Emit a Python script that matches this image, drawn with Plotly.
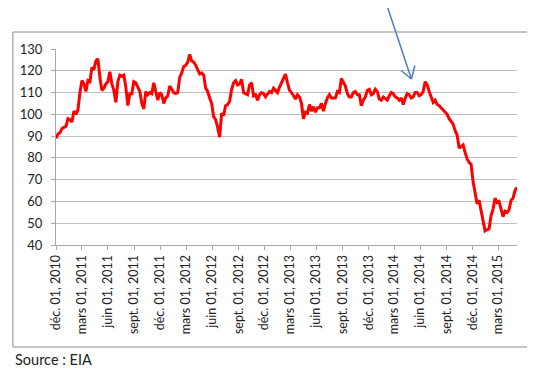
import pandas as pd
import plotly.graph_objects as go

# Weekly Brent spot price (USD/bbl), Wednesdays from 2010-12-01
start_date = "2010-12-01"
prices = [
    # 2010
    89.0, 91.0, 91.5, 93.5, 94.0,
    # 2011
    94.5, 98.0, 97.5, 96.5, 101.5, 100.0, 102.0, 110.0, 115.5, 114.0, 110.5, 115.5, 115.0,
    121.5, 120.5, 124.5, 125.5, 117.0, 111.0, 112.0, 114.0, 115.0, 119.5, 114.0, 111.0, 105.5,
    115.0, 118.0, 117.5, 118.0, 112.5, 104.0, 109.5, 109.5, 115.0, 114.5, 112.5, 110.5, 105.0,
    102.5, 110.5, 109.0, 110.0, 109.5, 114.5, 111.0, 106.5, 110.0, 109.0, 105.0, 107.5, 108.5,
    # 2012
    113.0, 111.5, 110.0, 109.5, 110.0, 117.0, 119.0, 122.0, 122.5, 124.0, 127.5, 124.5, 124.0,
    122.5, 120.5, 118.5, 119.0, 118.0, 112.0, 110.5, 107.5, 105.0, 99.0, 97.5, 94.0, 89.5,
    100.5, 99.5, 104.0, 104.5, 106.0, 111.5, 114.5, 115.5, 113.5, 114.0, 116.0, 110.0, 109.5,
    109.0, 113.5, 114.5, 108.5, 109.0, 106.5, 109.0, 110.0, 109.5, 108.0, 109.0, 110.5, 110.0,
    # 2013
    112.0, 111.0, 110.0, 112.5, 114.5, 117.0, 118.5, 114.5, 111.0, 110.0, 108.5, 107.0, 109.0,
    108.0, 105.0, 98.0, 101.0, 100.5, 104.5, 101.5, 103.5, 101.0, 103.0, 103.0, 105.0, 101.5,
    105.0, 107.5, 109.0, 107.5, 107.5, 107.5, 110.5, 110.0, 116.5, 114.5, 113.0, 109.5, 108.0,
    108.0, 110.0, 110.5, 109.0, 109.0, 104.0, 106.5, 108.0, 111.0, 111.5, 109.0, 109.5, 111.5,
    # 2014
    110.5, 107.0, 106.5, 108.0, 107.0, 106.5, 108.5, 110.0, 109.5, 108.0, 107.5, 106.5, 107.5,
    104.5, 107.5, 109.5, 109.0, 107.5, 108.0, 110.0, 110.0, 108.5, 109.0, 110.5, 115.0, 113.5,
    110.5, 108.0, 105.5, 106.5, 104.5, 104.0, 103.0, 101.5, 101.0, 100.0, 98.0, 97.0, 95.5,
    92.5, 90.5, 84.5, 85.5, 86.0, 82.5, 79.5, 78.0, 77.0, 69.0, 64.0, 59.0, 60.5, 56.0,
    # 2015
    50.5, 46.5, 47.0, 47.5, 53.5, 56.5, 61.5, 59.5, 60.0, 56.0, 53.0, 55.5, 55.0,
    56.0, 60.5, 61.5, 65.0, 66.5,
]

tick_dates = [
    "2010-12-01", "2011-03-01", "2011-06-01", "2011-09-01", "2011-12-01",
    "2012-03-01", "2012-06-01", "2012-09-01", "2012-12-01", "2013-03-01",
    "2013-06-01", "2013-09-01", "2013-12-01", "2014-03-01", "2014-06-01",
    "2014-09-01", "2014-12-01", "2015-03-01",
]
tick_labels = [
    "déc. 01, 2010", "mars 01, 2011", "juin 01, 2011", "sept. 01, 2011", "déc. 01, 2011",
    "mars 01, 2012", "juin 01, 2012", "sept. 01, 2012", "déc. 01, 2012", "mars 01, 2013",
    "juin 01, 2013", "sept. 01, 2013", "déc. 01, 2013", "mars 01, 2014", "juin 01, 2014",
    "sept. 01, 2014", "déc. 01, 2014", "mars 01, 2015",
]
y_ticks = [40, 50, 60, 70, 80, 90, 100, 110, 120, 130]
source_text = "Source : EIA"

dates = pd.date_range(start_date, periods=len(prices), freq="7D")

fig = go.Figure()
fig.add_trace(go.Scatter(
    x=dates, y=prices, mode="lines",
    line=dict(color="#FF0000", width=3),
    hoverinfo="skip", showlegend=False,
))

# The page has an 8px body margin, so the figure is shifted by OFF px.
OFF = 8
W, H = 535 - OFF, 370 - OFF
# plot area in window pixels
PX0, PX1, PY0, PY1 = 52, 517, 49, 245
L, R = PX0 - OFF, (W + OFF) - PX1
T, B = PY0 - OFF, (H + OFF) - PY1
pw, ph = PX1 - PX0, PY1 - PY0

def px(x):
    return (x - PX0) / pw

def py(y):
    return (PY1 - y) / ph

shapes = [
    # outer chart frame
    dict(type="rect", xref="paper", yref="paper",
         x0=px(8.5), x1=px(530), y0=py(347), y1=py(32),
         line=dict(color="#8C8C8C", width=1), layer="below"),
    # blue arrow
    dict(type="line", xref="paper", yref="paper",
         x0=px(386), y0=py(6), x1=px(410.5), y1=py(79),
         line=dict(color="#4A7EBB", width=1.5)),
    dict(type="line", xref="paper", yref="paper",
         x0=px(400), y0=py(70.5), x1=px(410.5), y1=py(79),
         line=dict(color="#4A7EBB", width=1.5)),
    dict(type="line", xref="paper", yref="paper",
         x0=px(414), y0=py(65.5), x1=px(410.5), y1=py(79),
         line=dict(color="#4A7EBB", width=1.5)),
]

fig.update_layout(
    width=W, height=H,
    margin=dict(l=L, r=R, t=T, b=B, pad=0),
    paper_bgcolor="white", plot_bgcolor="white",
    font=dict(family="Lato, Open Sans, sans-serif", size=13, color="#222222"),
    shapes=shapes,
    annotations=[dict(
        text=source_text, xref="paper", yref="paper",
        x=px(8.5), y=py(359), xanchor="left", yanchor="middle",
        showarrow=False, font=dict(size=14.5, color="#222222"),
    )],
)

fig.update_xaxes(
    range=[dates[0], dates[-1]],
    tickvals=tick_dates, ticktext=tick_labels, tickangle=-90,
    tickfont=dict(size=12.5),
    showgrid=False, zeroline=False,
    showline=True, linecolor="#A6A6A6", linewidth=1,
    ticks="outside", ticklen=4, tickcolor="#A6A6A6",
)
fig.update_yaxes(
    range=[40, 130], tickvals=y_ticks,
    showgrid=True, gridcolor="#BFBFBF", gridwidth=1,
    zeroline=False,
    showline=True, linecolor="#A6A6A6", linewidth=1,
    ticks="outside", ticklen=4, tickcolor="#A6A6A6",
    ticklabelstandoff=6,
)

fig.write_html("out.html")
